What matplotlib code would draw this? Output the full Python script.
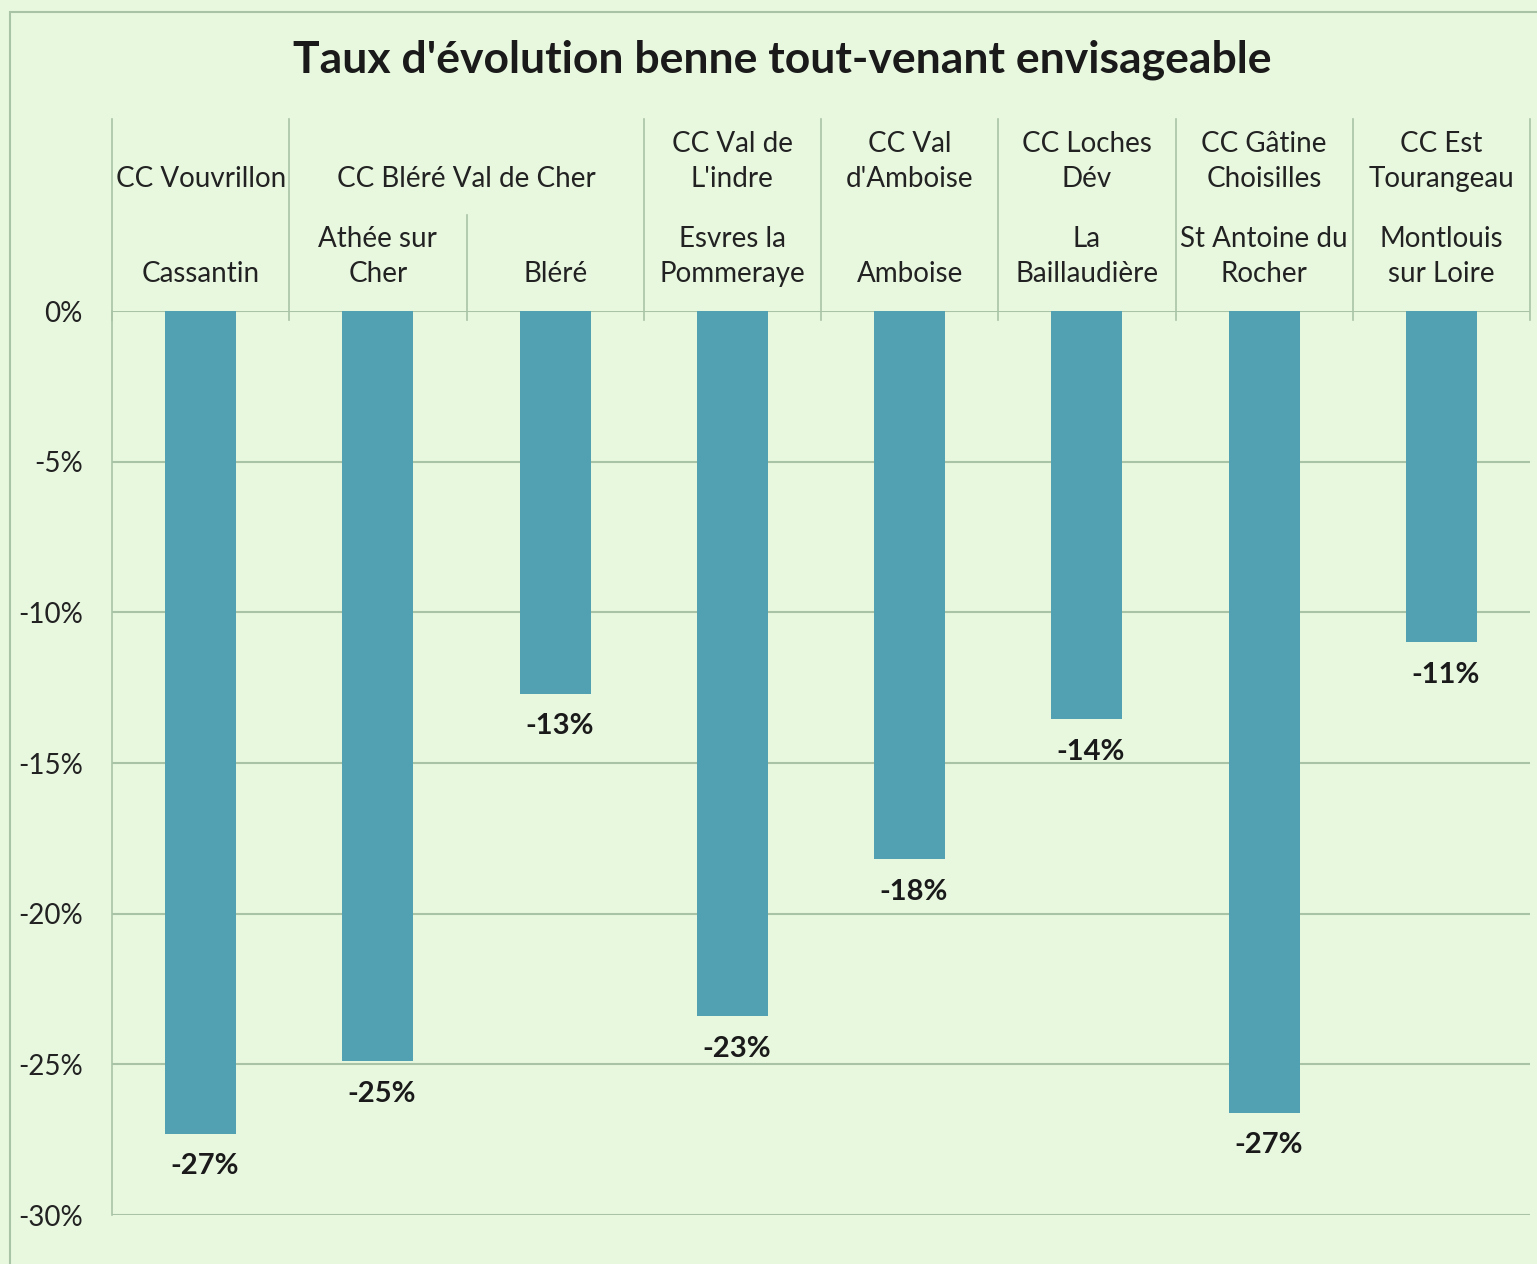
import numpy as np
import matplotlib.pyplot as plt
from matplotlib.patches import Rectangle

plt.rcParams['font.family'] = ['Lato', 'DejaVu Sans']

# data
communes = ['Cassantin', 'Athée sur\nCher', 'Bléré', 'Esvres la\nPommeraye',
            'Amboise', 'La\nBaillaudière', 'St Antoine du\nRocher', 'Montlouis\nsur Loire']
groupes = ['CC Vouvrillon', 'CC Bléré Val de Cher', 'CC Val de\nL\'indre',
           'CC Val\nd\'Amboise', 'CC Loches\nDév', 'CC Gâtine\nChoisilles',
           'CC Est\nTourangeau']
groupe_taille = [1, 2, 1, 1, 1, 1, 1]
taux = [-27.3, -24.9, -12.7, -23.4, -18.2, -13.55, -26.6, -11.0]
yticks = [0, -5, -10, -15, -20, -25, -30]

bg = '#e8f8df'
bar_col = '#51a1b2'
grid_col = '#a9c3a6'

fig = plt.figure(figsize=(15.37, 12.64), dpi=100, facecolor=bg)
ax = fig.add_axes([112 / 1537, 1 - 1215 / 1264, 1418 / 1537, 904 / 1264])
ax.set_facecolor(bg)

x = np.arange(len(taux))
ax.bar(x, taux, width=0.4, color=bar_col, zorder=3)
ax.set_xlim(-0.5, len(taux) - 0.5)
ax.set_ylim(-30, 0)

for yv in yticks:
    ax.axhline(yv, color=grid_col, lw=1.5, zorder=1)
ax.set_yticks(yticks)
ax.set_yticklabels([f'{v}%' for v in yticks], fontsize=20, color='#222222')
ax.tick_params(axis='y', length=0, pad=21)
ax.set_xticks([])
for s in ['top', 'right', 'bottom']:
    ax.spines[s].set_visible(False)
ax.spines['left'].set_color(grid_col)
ax.spines['left'].set_linewidth(1.2)

# valeurs sous les barres
for xi, v in zip(x, taux):
    ax.annotate('%.0f%%' % v, (xi, v), xytext=(3, -14), textcoords='offset points',
                ha='center', va='top', fontsize=21, fontweight='bold', color='#1a1a1a')

# entete : communes et groupes
trans = ax.get_xaxis_transform()
for xi, c in zip(x, communes):
    ax.text(xi, 1.027, c, transform=trans, ha='center', va='bottom', fontsize=20,
            color='#222222', linespacing=1.42)

bornes = np.concatenate([[0], np.cumsum(groupe_taille)]) - 0.5
for i, g in enumerate(groupes):
    centre = (bornes[i] + bornes[i + 1]) / 2
    ax.text(centre, 1.132, g, transform=trans, ha='center', va='bottom', fontsize=20,
            color='#222222', linespacing=1.42)
for b in bornes:
    ax.plot([b, b], [0.99, 1.212], transform=trans, color=grid_col, lw=1.2, clip_on=False)
# separateur sous-categorie
for xi in range(len(taux) - 1):
    b = xi + 0.5
    if b not in bornes:
        ax.plot([b, b], [0.99, 1.106], transform=trans, color=grid_col, lw=1.2, clip_on=False)

fig.text(782 / 1537, 1 - 60 / 1264, "Taux d'évolution benne tout-venant envisageable",
         ha='center', va='center', fontsize=32, fontweight='bold', color='#1a1a1a')

# cadre exterieur
fig.patches.append(Rectangle((10 / 1537, -0.1), 1.2, 1 - 12 / 1264 + 0.1,
                             transform=fig.transFigure, fill=False,
                             edgecolor=grid_col, lw=1.5))

fig.savefig('out.png', dpi=100, facecolor=bg)
